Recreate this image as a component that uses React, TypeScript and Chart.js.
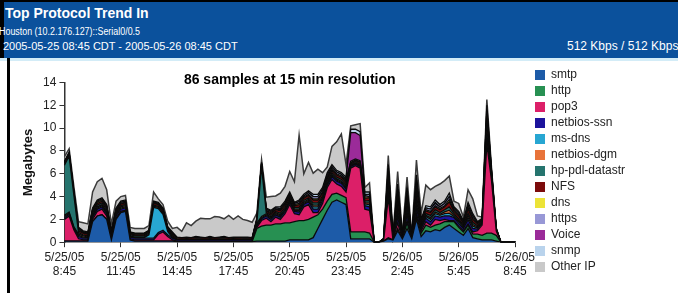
import React, { useEffect, useRef } from 'react';
import { Chart, registerables } from 'chart.js';

Chart.register(...registerables);

const FONT = '"Liberation Sans", Arial, Helvetica, sans-serif';

// 97 sample slots, 15 min apart, 5/25/05 8:45 -> 5/26/05 8:45
const START_MIN = 8 * 60 + 45;
const categories = Array.from({ length: 97 }, (_, i) => {
  const m = START_MIN + i * 15;
  const day = m >= 1440 ? 26 : 25;
  const mm = m % 1440;
  return `5/${day}/05 ${Math.floor(mm / 60)}:${String(mm % 60).padStart(2, '0')}`;
});

const tickLabels = [
  ['5/25/05', '8:45'],
  ['5/25/05', '11:45'],
  ['5/25/05', '14:45'],
  ['5/25/05', '17:45'],
  ['5/25/05', '20:45'],
  ['5/25/05', '23:45'],
  ['5/26/05', '2:45'],
  ['5/26/05', '5:45'],
  ['5/26/05', '8:45'],
];

const seriesNames = ['smtp', 'http', 'pop3', 'netbios-ssn', 'ms-dns', 'netbios-dgm', 'hp-pdl-datastr', 'NFS', 'dns', 'https', 'Voice', 'snmp', 'Other IP'];
const seriesColors = ['#1d5ba8', '#279052', '#dc1f68', '#1c139c', '#27a6d2', '#e8733a', '#25746e', '#7c0b0b', '#ece337', '#9898d6', '#9b2b99', '#b9d3ec', '#c9c9c9'];

// Megabytes per sample (stacked)
const smtp = [
  .1, .1, .1, .1, .1, .1, 1.8, 2.3, 2.4, 2.0,
  .2, 2.0, 2.6, 2.7, .2, .1, .1, .1, .1, .1,
  .1, .1, .1, .1, .05, .05, .05, .05, .05, .05,
  .05, .05, .05, .05, .05, .05, .05, .05, .05, .05,
  .05, .1, .1, .1, .1, .1, .1, .1, .2, .2,
  .2, .2, .2, .4, 1.2, 2.0, 2.8, 3.5, 3.7, 3.5,
  3.3, .3, .3, .3, .3, .3, 0, 0, .1, .3,
  .2, 1.0, .3, 1.2, .3, 2.0, .5, 1.0, .9, 1.1,
  1.0, 1.3, 1.5, 1.2, .9, .6, 1.2, .4, .3, .2,
  .2, .2, .1, 0, 0, 0, 0,
];
const http = [
  0, 0, 0, 0, 0, 0, 0, 0, 0, 0,
  0, 0, 0, 0, 0, 0, 0, 0, 0, 0,
  0, 0, 0, 0, 0, 0, 0, 0, 0, 0,
  0, 0, 0, 0, 0, 0, 0, 0, 0, 0,
  0, 1.1, 1.3, 1.4, 1.4, 1.5, 1.5, 1.6, 1.5, 1.6,
  1.7, 1.7, 1.8, 1.8, 1.2, .9, .8, .7, .6, .6,
  .6, .6, .6, .6, .6, .5, 0, 0, 0, .1,
  0, .2, 0, .5, 0, .3, .3, .5, .4, .4,
  .6, .5, .3, .6, .4, .3, .3, .3, .4, .4,
  .6, .6, .5, 0, 0, 0, 0,
];
const pop3 = [
  1.9, 2.2, 1.0, .2, .1, .1, .2, .4, .5, .3,
  .1, .1, .1, .1, .1, .1, .1, .1, .1, .1,
  .6, .8, .4, .1, .05, .05, .05, .05, .05, .05,
  .05, .05, .05, .05, .05, .05, .05, .05, .05, .05,
  .05, .1, .5, .6, .3, .6, .4, .8, 1.6, .7,
  .5, 1.2, 1.3, .4, .2, .5, 1.2, 1.3, .8, .8,
  .5, 5.6, 5.8, 5.6, 2.0, 2.0, 0, 0, 0, 3.5,
  0, .5, 0, .2, 0, .2, .2, .3, .2, .5,
  .3, .2, .1, .1, .1, .1, .1, .2, .3, .9,
  7.8, 4.6, .4, 0, 0, 0, 0,
];
const netbiosSsn = [
  .15, .15, .15, .2, .15, .15, .2, .2, .2, .2,
  .15, .2, .2, .2, .15, .15, .15, .15, .15, .15,
  .15, .15, .15, .15, .1, .1, .1, .1, .1, .1,
  .1, .1, .1, .1, .1, .1, .1, .1, .1, .1,
  .1, .15, .15, .2, .2, .2, .2, .2, .2, .2,
  .25, .2, .25, .3, .3, .25, .2, .25, .25, .25,
  .25, .15, .15, .15, .3, .3, 0, 0, .1, .5,
  .1, .5, .1, .5, .1, .5, .2, .3, .3, .3,
  .3, .3, .4, .25, .25, .2, .35, .3, .15, .15,
  .5, .2, .1, 0, 0, 0, 0,
];
const msDns = [
  .1, .1, .05, .1, .1, .05, .1, .1, .1, .1,
  .05, .1, .1, .1, .05, .05, .05, .05, .3, 2.7,
  2.1, 1.4, .3, .05, 0, 0, 0, 0, 0, 0,
  0, 0, 0, 0, 0, 0, 0, 0, 0, 0,
  0, .1, .1, .1, .1, .1, .1, .1, .1, .1,
  .15, .1, .1, .2, .2, .15, .1, .1, .1, .1,
  .1, .05, .05, .05, .15, .2, 0, 0, 0, .3,
  0, .35, 0, .3, 0, .35, .1, .15, .2, .2,
  .15, .2, .25, .1, .15, .1, .2, .2, .1, .05,
  .35, .1, 0, 0, 0, 0, 0,
];
const netbiosDgm = [
  .1, .1, .05, .1, .1, .05, .1, .1, .1, .1,
  .05, .1, .1, .1, .05, .05, .05, .05, .05, .1,
  .1, .1, .05, .05, .05, 0, .05, 0, .05, .05,
  0, .05, 0, .05, .05, 0, .05, 0, .05, .05,
  0, .1, .1, .1, .1, .1, .1, .1, .1, .1,
  .1, .1, .1, .15, .15, .1, .1, .1, .1, .1,
  .1, .05, .05, .05, .1, .15, 0, 0, 0, .3,
  0, .35, 0, .3, 0, .35, .1, .1, .15, .15,
  .1, .15, .25, .1, .1, .1, .2, .15, .1, .05,
  .35, .1, 0, 0, 0, 0, 0,
];
const hpPdl = [
  4.4, 4.9, 2.8, .15, .1, .1, .15, .15, .15, .15,
  .1, .1, .1, .1, .1, .1, .1, .1, .1, .1,
  .1, .1, .1, .1, .05, .05, .05, .05, .05, .05,
  .05, .05, .05, .05, .05, .05, .05, .05, .05, .05,
  .05, .1, 4.4, .1, .15, .1, .15, .15, .15, .15,
  .15, .15, .15, .2, .2, .15, .15, .15, .15, .15,
  .15, .1, .1, .1, .15, .2, 0, 0, 0, .35,
  0, .4, 0, .35, 0, .4, .15, .15, .2, .2,
  .15, .2, .3, .15, .15, .1, .2, .2, .1, .1,
  .4, .1, 0, 0, 0, 0, 0,
];
const nfs = [
  .15, .15, .15, .15, .15, .15, .15, .15, .15, .15,
  .15, .15, .15, .15, .1, .1, .1, .1, .1, .15,
  .15, .15, .1, .15, .1, .1, .1, .1, .1, .1,
  .1, .1, .1, .1, .1, .1, .1, .1, .1, .1,
  .1, .15, .15, .15, .15, .15, .2, .2, .2, .15,
  .25, .2, .2, .25, .25, .25, .2, .2, .2, .2,
  .2, .1, .1, .15, .25, .25, 0, 0, .1, .55,
  .1, .7, .1, .55, .1, .7, .15, .25, .25, .25,
  .25, .25, .45, .2, .25, .15, .35, .25, .15, .1,
  .7, .15, .05, 0, 0, 0, 0,
];
const dns = [
  .05, .05, .05, .1, .05, .05, .1, .1, .1, .1,
  .05, .05, .05, .05, .05, .05, .05, .05, .05, .05,
  .05, .05, .05, .05, 0, 0, 0, 0, 0, 0,
  0, .05, 0, 0, 0, 0, 0, .05, 0, 0,
  0, .05, .05, .05, .1, .05, .1, .1, .1, .1,
  .1, .1, .1, .1, .1, .1, .1, .1, .1, .1,
  .1, .05, .05, .05, .1, .1, 0, 0, 0, .25,
  0, .3, 0, .25, 0, .3, .1, .1, .1, .1,
  .1, .1, .2, .1, .1, .05, .15, .1, .05, .05,
  .3, .05, 0, 0, 0, 0, 0,
];
const https = [
  .05, .05, .05, .1, .05, .05, .1, .1, .1, .1,
  .05, .1, .1, .1, .05, .05, .05, .05, .05, .05,
  .05, .05, .05, .05, 0, 0, 0, 0, .05, 0,
  0, 0, 0, 0, .05, 0, 0, 0, 0, 0,
  0, .05, .05, .1, .1, .1, .1, .1, .1, .1,
  .15, .1, .15, .2, .2, .15, .1, .15, .15, .15,
  .15, .1, .1, .1, .15, .2, 0, 0, 0, .3,
  0, .35, 0, .3, 0, .35, .1, .15, .2, .2,
  .15, .2, .25, .15, .15, .1, .2, .2, .05, .05,
  .35, .1, 0, 0, 0, 0, 0,
];
const voice = [
  0, 0, 0, 0, 0, 0, 0, 0, 0, 0,
  0, 0, 0, 0, 0, 0, 0, 0, 0, 0,
  0, 0, 0, 0, 0, 0, 0, 0, 0, 0,
  0, 0, 0, 0, 0, 0, 0, 0, 0, 0,
  0, 0, 0, 0, 0, 0, 0, 0, 0, 0,
  0, 0, 0, 0, 0, .1, .2, .1, 0, 0,
  .1, 2.5, 2.3, 2.2, .1, 0, 0, 0, 0, 0,
  0, 0, 0, 0, 0, 0, 0, 0, 0, .1,
  0, 0, 0, 0, 0, 0, 0, 0, 0, 0,
  0, 0, 0, 0, 0, 0, 0,
];
const snmp = [
  .1, .1, .1, .1, .1, .1, .1, .1, .1, .1,
  .1, .1, .1, .1, .05, .05, .05, .05, .05, .1,
  .1, .1, .05, .1, .05, .05, .05, .05, .05, .05,
  .05, .05, .05, .05, .05, .05, .05, .05, .05, .05,
  .05, .1, .1, .1, .1, .1, .15, .15, .15, .1,
  .15, .15, .15, .2, .2, .15, .15, .15, .15, .15,
  .15, .3, .3, .35, .2, .2, 0, 0, 0, .35,
  .1, .45, .1, .35, 0, .45, .1, .2, .2, .2,
  .2, .2, .3, .15, .15, .1, .25, .2, .1, .05,
  .45, .1, .05, 0, 0, 0, 0,
];
const otherIP = [
  .4, .3, .4, .5, .7, .7, 1.4, 1.6, 1.7, 1.3,
  .6, .6, .4, .4, .4, .4, .4, .4, .4, .8,
  .3, .3, .5, .3, .85, .55, 1.25, 1.05, 1.35, 1.65,
  1.65, 1.55, 1.85, 1.75, 1.55, 1.95, 1.55, 1.85, 1.55, 1.45,
  1.35, .45, .25, .95, 1.2, .95, 1.2, 1.3, 1.8, 1.8,
  5.7, 1.8, 2.5, 1.85, 2.2, 1.3, .5, 1.6, 2.5, 3.4,
  1.1, .3, .4, .7, .4, .8, 0, 0, 0, .8,
  .1, 1.1, .1, .9, .1, 1.3, .5, 1.8, 1.5, 1.2,
  1.8, 1.8, 1.5, .5, .7, .3, 1.1, 1.3, .5, .1,
  .5, .2, .05, 0, 0, 0, 0,
];

export default function App() {
  const canvasRef = useRef<HTMLCanvasElement | null>(null);

  useEffect(() => {
    const canvas = canvasRef.current;
    if (!canvas) return;
    const values = [smtp, http, pop3, netbiosSsn, msDns, netbiosDgm, hpPdl, nfs, dns, https, voice, snmp, otherIP];
    const datasets = values.map((data, i) => ({
      label: seriesNames[i],
      data,
      backgroundColor: seriesColors[i],
      borderColor: i === 12 ? '#3a3a3a' : '#0a0a0a',
      borderWidth: i === 12 ? 1.5 : 1.3,
      fill: i === 0 ? 'origin' : '-1',
      pointRadius: 0,
      pointHoverRadius: 0,
      tension: 0,
    }));

    // measure the legend so the plot area ends where the reference's does
    const mctx = document.createElement('canvas').getContext('2d')!;
    mctx.font = `12px ${FONT}`;
    const maxText = Math.max(...seriesNames.map((n) => mctx.measureText(n).width));
    const legendWidth = 4 + 10 + 6 + maxText + 10;
    const plotRight = 515;
    const padRight = Math.max(0, 678 - plotRight - legendWidth);

    const legendShift = {
      id: 'legendShift',
      afterLayout(chart: any) {
        const lg = chart.legend;
        if (lg) {
          const w = lg.width;
          lg.left = 531;
          lg.right = 531 + w;
        }
      },
    };

    const chart = new Chart(canvas, {
      type: 'line',
      data: { labels: categories, datasets: datasets as any },
      options: {
        responsive: false,
        animation: false,
        events: [],
        layout: { padding: { left: 16.5, right: padRight, top: 5, bottom: 0 } },
        plugins: {
          legend: {
            position: 'right',
            align: 'start',
            labels: {
              boxWidth: 10,
              boxHeight: 10,
              padding: 4,
              color: '#222',
              font: { family: FONT, size: 12 },
              generateLabels: (c: any) =>
                Chart.defaults.plugins.legend.labels
                  .generateLabels(c)
                  .map((it: any) => ({ ...it, strokeStyle: it.fillStyle, lineWidth: 0 })),
            },
          },
          title: {
            display: true,
            text: '86 samples at 15 min resolution',
            fullSize: false,
            color: '#000',
            font: { family: FONT, size: 14, weight: 'bold', lineHeight: 0.357 },
            padding: { top: 12.5, bottom: 0 },
          },
          tooltip: { enabled: false },
        },
        scales: {
          x: {
            type: 'category',
            offset: false,
            grid: { display: true, drawOnChartArea: false, drawTicks: true, tickLength: 5, color: '#333', lineWidth: 1 },
            border: { display: true, color: '#333', width: 1.5 },
            ticks: {
              autoSkip: false,
              maxRotation: 0,
              minRotation: 0,
              padding: 3,
              color: '#222',
              font: { family: FONT, size: 12, lineHeight: 1.2 },
              callback: (_v: any, i: number) => (i % 12 === 0 ? tickLabels[i / 12] : null),
            },
            title: { display: true, text: ' ', font: { size: 10, lineHeight: 1 }, padding: { top: 0, bottom: 1 } },
          },
          y: {
            stacked: true,
            min: 0,
            max: 14,
            grid: { display: true, drawOnChartArea: false, drawTicks: true, tickLength: 5, color: '#333' },
            border: { display: true, color: '#333', width: 1.5 },
            ticks: { stepSize: 2, padding: 3, color: '#222', font: { family: FONT, size: 12 } },
            title: {
              display: true,
              text: 'Megabytes',
              color: '#111',
              font: { family: FONT, size: 13, weight: 'bold' },
              padding: { top: 4, bottom: 4 },
            },
          },
        },
      } as any,
      plugins: [legendShift],
    });
    return () => chart.destroy();
  }, []);

  return (
    <div
      style={{
        position: 'absolute',
        left: 0,
        top: 0,
        width: 678,
        height: 293,
        background: '#fff',
        overflow: 'hidden',
        fontFamily: FONT,
      }}
    >
      <div style={{ position: 'absolute', left: 0, top: 0, width: 678, height: 58, background: '#000' }} />
      <div style={{ position: 'absolute', left: 4, top: 2, width: 674, height: 56, background: '#0b519c' }} />
      <div style={{ position: 'absolute', left: 0, top: 58, width: 678, height: 3, background: '#d3ecf7' }} />
      <div style={{ position: 'absolute', left: 7, top: 58, width: 3, height: 235, background: '#000' }} />
      <div style={{ position: 'absolute', left: 5, top: 5, color: '#fff', fontWeight: 'bold', fontSize: 14, lineHeight: '16px', whiteSpace: 'nowrap' }}>
        Top Protocol Trend In
      </div>
      <div
        style={{
          position: 'absolute',
          left: -1,
          top: 26,
          color: '#fff',
          fontSize: 10,
          lineHeight: '12px',
          whiteSpace: 'nowrap',
          transform: 'scaleX(0.89)',
          transformOrigin: 'left center',
        }}
      >
        Houston (10.2.176.127)::Serial0/0.5
      </div>
      <div style={{ position: 'absolute', left: 3, top: 40, color: '#fff', fontSize: 11, lineHeight: '13px', whiteSpace: 'nowrap' }}>
        2005-05-25 08:45 CDT - 2005-05-26 08:45 CDT
      </div>
      <div style={{ position: 'absolute', left: 567, top: 40, color: '#fff', fontSize: 12, lineHeight: '13px', whiteSpace: 'nowrap' }}>
        512 Kbps / 512 Kbps
      </div>
      <canvas
        ref={canvasRef}
        width={678}
        height={233}
        style={{ position: 'absolute', left: 0, top: 60, width: 678, height: 233, display: 'block' }}
      />
    </div>
  );
}
